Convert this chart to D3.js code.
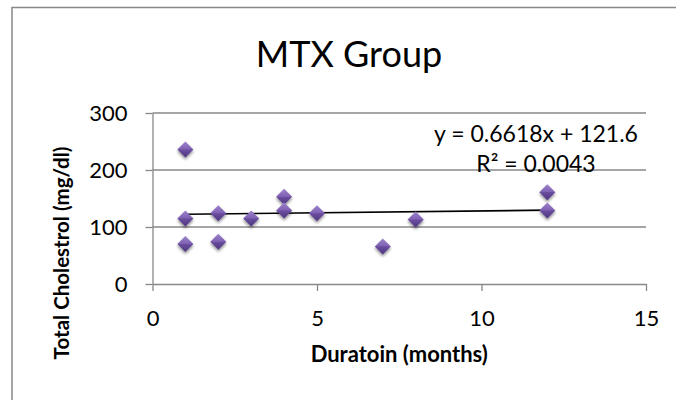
<!DOCTYPE html>
<html>
<head>
<meta charset="utf-8">
<script src="https://cdn.jsdelivr.net/npm/d3@7/dist/d3.min.js"></script>
<style>
  html, body { margin: 0; padding: 0; background: #fff; }
  svg { display: block; }
  text { font-family: Lato, "Open Sans", sans-serif; fill: #000; }
</style>
</head>
<body>
<svg id="chart" width="676" height="400"></svg>
<script>
// ---- data ----
const durationMonths = [1, 1, 1, 2, 2, 3, 4, 4, 5, 7, 8, 12, 12];
const cholesterol    = [236, 115, 70, 124, 74, 115, 153, 129, 124, 66, 113, 161, 129];
const xTicks = [0, 5, 10, 15];
const yTicks = [0, 100, 200, 300];
const trendSlope = 0.6618;
const trendIntercept = 121.6;
const trendR2 = 0.0043;
const titleText = "MTX Group";
const xTitle = "Duratoin (months)";
const yTitle = "Total Cholestrol (mg/dl)";

(function () {
// ---- layout ----
const svg = d3.select("#chart");
const pLeft = 152.5, pRight = 646, pTop = 113, pBottom = 284;
const x = d3.scaleLinear().domain([0, 15]).range([pLeft, pRight]);
const y = d3.scaleLinear().domain([0, 300]).range([pBottom, pTop]);
const gray = "#888888";

// outer chart border (extends past right/bottom edges)
svg.append("rect").attr("x", 12).attr("y", 7.5).attr("width", 700).attr("height", 420)
  .attr("fill", "none").attr("stroke", gray).attr("stroke-width", 1.5);

// defs: marker gradient & shadow
const defs = svg.append("defs");
const grad = defs.append("linearGradient").attr("id", "dg").attr("x1", 0).attr("y1", 0).attr("x2", 0).attr("y2", 1);
grad.append("stop").attr("offset", "0%").attr("stop-color", "#9d83cc");
grad.append("stop").attr("offset", "48%").attr("stop-color", "#7f61b3");
grad.append("stop").attr("offset", "52%").attr("stop-color", "#6a4d9e");
grad.append("stop").attr("offset", "100%").attr("stop-color", "#4e3680");
const sh = defs.append("filter").attr("id", "sh").attr("x", "-50%").attr("y", "-50%").attr("width", "200%").attr("height", "200%");
sh.append("feGaussianBlur").attr("in", "SourceAlpha").attr("stdDeviation", 1.6).attr("result", "b");
sh.append("feOffset").attr("in", "b").attr("dx", 0).attr("dy", 2).attr("result", "o");
sh.append("feComponentTransfer").attr("in", "o").attr("result", "o2")
  .append("feFuncA").attr("type", "linear").attr("slope", 0.45);
const m = sh.append("feMerge");
m.append("feMergeNode").attr("in", "o2");
m.append("feMergeNode").attr("in", "SourceGraphic");

// gridlines
svg.append("g").selectAll("line").data(yTicks.filter(d => d > 0)).join("line")
  .attr("x1", pLeft).attr("x2", pRight).attr("y1", d => y(d)).attr("y2", d => y(d))
  .attr("stroke", gray).attr("stroke-width", 1.3);

// axes
const xAxis = svg.append("g").attr("transform", `translate(0,${pBottom})`)
  .call(d3.axisBottom(x).tickValues(xTicks).tickSizeInner(7).tickSizeOuter(0).tickPadding(19));
const yAxis = svg.append("g").attr("transform", `translate(${pLeft},0)`)
  .call(d3.axisLeft(y).tickValues(yTicks).tickSizeInner(7).tickSizeOuter(0).tickPadding(18));
[xAxis, yAxis].forEach(a => {
  a.select(".domain").attr("stroke", gray).attr("stroke-width", 1.3);
  a.selectAll(".tick line").attr("stroke", gray).attr("stroke-width", 1.3);
  a.selectAll(".tick text").attr("font-family", "Lato, sans-serif").attr("font-size", 22).attr("fill", "#000");
});
yAxis.selectAll(".tick text").attr("dy", "0.36em");

// trend line
svg.append("line")
  .attr("x1", x(1)).attr("y1", y(trendSlope * 1 + trendIntercept))
  .attr("x2", x(12)).attr("y2", y(trendSlope * 12 + trendIntercept))
  .attr("stroke", "#000").attr("stroke-width", 1.6);

// markers
const pts = durationMonths.map((d, i) => ({ x: d, y: cholesterol[i] }));
const r = 8;
svg.append("g").selectAll("path").data(pts).join("path")
  .attr("d", `M0,${-r}L${r},0L0,${r}L${-r},0Z`)
  .attr("transform", d => `translate(${x(d.x)},${y(d.y)})`)
  .attr("fill", "url(#dg)").attr("filter", "url(#sh)");

// title
svg.append("text").attr("x", 349).attr("y", 66.5).attr("text-anchor", "middle")
  .attr("font-size", 36).text(titleText);

// equation
svg.append("text").attr("x", 536).attr("y", 141.5).attr("text-anchor", "middle")
  .attr("font-size", 23).text(`y = ${trendSlope}x + ${trendIntercept}`);
svg.append("text").attr("x", 536).attr("y", 171.5).attr("text-anchor", "middle")
  .attr("font-size", 23).text(`R² = ${trendR2}`);

// axis titles
svg.append("text").attr("x", (pLeft + pRight) / 2).attr("y", 362).attr("text-anchor", "middle")
  .attr("font-size", 22).attr("font-weight", "bold").text(xTitle);
svg.append("text").attr("transform", `translate(69,253) rotate(-90)`).attr("text-anchor", "middle")
  .attr("font-size", 20.5).attr("font-weight", "bold").text(yTitle);
})();
</script>
</body>
</html>
